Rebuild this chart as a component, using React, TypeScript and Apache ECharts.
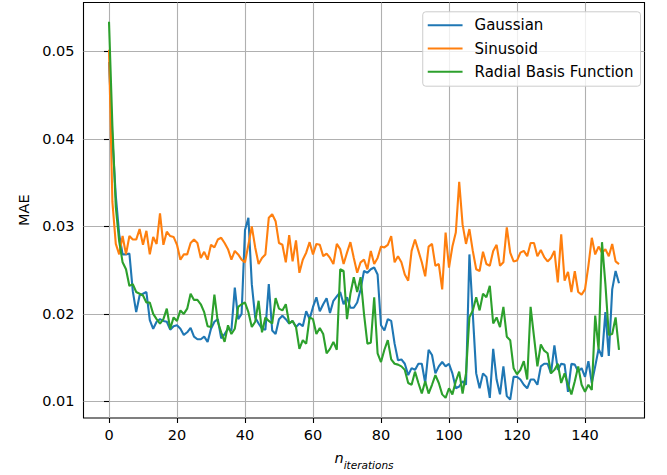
import React, { useEffect, useRef } from "react";
import * as echarts from "echarts";

const seriesNames = ["Gaussian", "Sinusoid", "Radial Basis Function"];
const seriesColors = ["#1f77b4", "#ff7f0e", "#2ca02c"];

const gaussian = [
  0.0488, 0.0400, 0.0335, 0.0291, 0.0268, 0.0268, 0.0269, 0.0226, 0.0202, 0.0221,
  0.0223, 0.0225, 0.0193, 0.0183, 0.0191, 0.0194, 0.0192, 0.0191, 0.0182, 0.0186,
  0.0187, 0.0183, 0.0176, 0.0179, 0.0184, 0.0174, 0.0171, 0.0171, 0.0174, 0.0168,
  0.0183, 0.0191, 0.0194, 0.0172, 0.0177, 0.0183, 0.0181, 0.0230, 0.0194, 0.0200,
  0.0296, 0.0310, 0.0234, 0.0196, 0.0189, 0.0183, 0.0182, 0.0234, 0.0181, 0.0177,
  0.0194, 0.0198, 0.0194, 0.0189, 0.0192, 0.0185, 0.0189, 0.0186, 0.0203, 0.0194,
  0.0208, 0.0219, 0.0203, 0.0211, 0.0218, 0.0201, 0.0215, 0.0220, 0.0225, 0.0211,
  0.0219, 0.0207, 0.0207, 0.0213, 0.0228, 0.0249, 0.0247, 0.0251, 0.0253, 0.0245,
  0.0187, 0.0181, 0.0194, 0.0192, 0.0166, 0.0147, 0.0148, 0.0143, 0.0130, 0.0138,
  0.0136, 0.0143, 0.0143, 0.0121, 0.0159, 0.0153, 0.0132, 0.0140, 0.0145, 0.0140,
  0.0143, 0.0132, 0.0115, 0.0117, 0.0123, 0.0119, 0.0268, 0.0200, 0.0132, 0.0115,
  0.0132, 0.0128, 0.0104, 0.0160, 0.0125, 0.0108, 0.0140, 0.0106, 0.0102, 0.0128,
  0.0128, 0.0125, 0.0119, 0.0115, 0.0125, 0.0125, 0.0119, 0.0140, 0.0143, 0.0143,
  0.0132, 0.0164, 0.0136, 0.0143, 0.0142, 0.0111, 0.0143, 0.0142, 0.0134, 0.0138,
  0.0128, 0.0146, 0.0121, 0.0140, 0.0160, 0.0151, 0.0202, 0.0152, 0.0228, 0.0249, 0.0235,
];

const sinusoid = [
  0.0502, 0.0328, 0.0280, 0.0268, 0.0289, 0.0268, 0.0289, 0.0285, 0.0285, 0.0297,
  0.0279, 0.0295, 0.0268, 0.0288, 0.0280, 0.0315, 0.0279, 0.0294, 0.0289, 0.0288,
  0.0279, 0.0262, 0.0268, 0.0268, 0.0281, 0.0285, 0.0281, 0.0264, 0.0271, 0.0262,
  0.0279, 0.0276, 0.0285, 0.0287, 0.0281, 0.0274, 0.0262, 0.0272, 0.0268, 0.0262,
  0.0259, 0.0279, 0.0300, 0.0276, 0.0257, 0.0264, 0.0268, 0.0310, 0.0314, 0.0306,
  0.0281, 0.0279, 0.0259, 0.0290, 0.0260, 0.0284, 0.0247, 0.0262, 0.0270, 0.0282,
  0.0268, 0.0280, 0.0279, 0.0266, 0.0269, 0.0264, 0.0257, 0.0280, 0.0274, 0.0257,
  0.0270, 0.0282, 0.0264, 0.0247, 0.0259, 0.0262, 0.0251, 0.0272, 0.0257, 0.0264,
  0.0277, 0.0276, 0.0279, 0.0289, 0.0259, 0.0266, 0.0259, 0.0245, 0.0238, 0.0272,
  0.0285, 0.0272, 0.0259, 0.0243, 0.0277, 0.0280, 0.0255, 0.0257, 0.0228, 0.0293,
  0.0253, 0.0277, 0.0293, 0.0351, 0.0302, 0.0280, 0.0297, 0.0272, 0.0251, 0.0249,
  0.0271, 0.0257, 0.0255, 0.0272, 0.0279, 0.0255, 0.0259, 0.0299, 0.0270, 0.0260,
  0.0261, 0.0270, 0.0272, 0.0266, 0.0281, 0.0281, 0.0266, 0.0273, 0.0265, 0.0260,
  0.0264, 0.0272, 0.0236, 0.0291, 0.0238, 0.0248, 0.0225, 0.0249, 0.0225, 0.0222,
  0.0228, 0.0255, 0.0287, 0.0268, 0.0277, 0.0270, 0.0274, 0.0266, 0.0280, 0.0260, 0.0257,
];

const rbf = [
  0.0534, 0.0415, 0.0322, 0.0283, 0.0259, 0.0251, 0.0232, 0.0234, 0.0225, 0.0223,
  0.0221, 0.0213, 0.0213, 0.0200, 0.0194, 0.0189, 0.0194, 0.0206, 0.0183, 0.0196,
  0.0192, 0.0204, 0.0200, 0.0206, 0.0223, 0.0216, 0.0216, 0.0211, 0.0202, 0.0186,
  0.0185, 0.0222, 0.0191, 0.0179, 0.0168, 0.0187, 0.0177, 0.0183, 0.0208, 0.0211,
  0.0213, 0.0202, 0.0185, 0.0191, 0.0215, 0.0179, 0.0196, 0.0192, 0.0189, 0.0218,
  0.0206, 0.0204, 0.0211, 0.0189, 0.0192, 0.0185, 0.0160, 0.0170, 0.0166, 0.0196,
  0.0194, 0.0177, 0.0184, 0.0177, 0.0155, 0.0160, 0.0168, 0.0159, 0.0251, 0.0249,
  0.0194, 0.0223, 0.0242, 0.0225, 0.0242, 0.0200, 0.0166, 0.0167, 0.0219, 0.0155,
  0.0145, 0.0159, 0.0170, 0.0148, 0.0143, 0.0142, 0.0140, 0.0136, 0.0121, 0.0119,
  0.0134, 0.0121, 0.0109, 0.0123, 0.0109, 0.0119, 0.0130, 0.0121, 0.0108, 0.0104,
  0.0115, 0.0108, 0.0123, 0.0134, 0.0109, 0.0132, 0.0196, 0.0204, 0.0219, 0.0204,
  0.0223, 0.0219, 0.0232, 0.0189, 0.0196, 0.0185, 0.0208, 0.0174, 0.0170, 0.0138,
  0.0131, 0.0136, 0.0146, 0.0125, 0.0208, 0.0174, 0.0140, 0.0165, 0.0158, 0.0155,
  0.0132, 0.0136, 0.0143, 0.0121, 0.0132, 0.0119, 0.0108, 0.0123, 0.0140, 0.0119,
  0.0111, 0.0119, 0.0113, 0.0198, 0.0159, 0.0282, 0.0234, 0.0176, 0.0177, 0.0196, 0.0159,
];

const xTicks = [0, 20, 40, 60, 80, 100, 120, 140];
const yTicks = [0.01, 0.02, 0.03, 0.04, 0.05];

const FONT = "DejaVu Sans";

export default function App() {
  const ref = useRef<HTMLDivElement>(null);

  useEffect(() => {
    document.body.style.margin = "0";
    const chart = echarts.init(ref.current!, null, { renderer: "svg" });
    const allSeries = [gaussian, sinusoid, rbf];
    chart.setOption({
      animation: false,
      backgroundColor: "#ffffff",
      grid: {
        left: 83.5,
        right: 22.5,
        top: 2.5,
        bottom: 53.3,
        show: true,
        borderColor: "#000000",
        borderWidth: 1.1,
        backgroundColor: "transparent",
      },
      legend: {
        data: seriesNames,
        orient: "vertical",
        right: 26.5,
        top: 11.8,
        icon: "rect",
        backgroundColor: "rgba(255,255,255,0.8)",
        borderColor: "#cccccc",
        borderWidth: 1,
        borderRadius: 3,
        padding: [6, 7, 7, 5],
        itemGap: 8.2,
        itemWidth: 34.8,
        itemHeight: 2.1,
        formatter: (name: string) => `{t|${name}}`,
        textStyle: {
          fontFamily: FONT,
          fontSize: 15,
          color: "#000000",
          rich: {
            t: { fontFamily: FONT, fontSize: 15, color: "#000000", lineHeight: 15, padding: [0, 0, 0, 7] },
          },
        },
      },
      xAxis: {
        type: "value",
        min: -7.5,
        max: 157.5,
        name: "{n|n}{s|iterations}",
        nameLocation: "middle",
        nameGap: 32,
        nameTextStyle: {
          rich: {
            n: { fontFamily: FONT, fontSize: 14.5, fontStyle: "italic", color: "#000", lineHeight: 20, verticalAlign: "top" },
            s: { fontFamily: FONT, fontSize: 10.5, fontStyle: "italic", color: "#000", lineHeight: 20, verticalAlign: "bottom", padding: [5, 0, 0, 0] },
          },
        },
        axisLine: { show: false },
        axisTick: {
          show: true,
          inside: false,
          length: 5,
          lineStyle: { color: "#000", width: 1.1 },
          customValues: xTicks,
        },
        axisLabel: {
          customValues: xTicks,
          margin: 9,
          fontFamily: FONT,
          fontSize: 14.5,
          color: "#000",
        },
        splitLine: { show: true, lineStyle: { color: "#b0b0b0", width: 1.1 } },
      },
      yAxis: {
        type: "value",
        min: 0.0081,
        max: 0.0556,
        name: "MAE",
        nameLocation: "middle",
        nameRotate: 90,
        nameGap: 50,
        nameTextStyle: { fontFamily: FONT, fontSize: 14.5, color: "#000" },
        axisLine: { show: false },
        axisTick: {
          show: true,
          inside: false,
          length: 5,
          lineStyle: { color: "#000", width: 1.1 },
          customValues: yTicks,
        },
        axisLabel: {
          customValues: yTicks,
          margin: 9,
          fontFamily: FONT,
          fontSize: 14.5,
          color: "#000",
          formatter: (v: number) => v.toFixed(2),
        },
        splitLine: { show: true, lineStyle: { color: "#b0b0b0", width: 1.1 } },
      },
      series: allSeries.map((arr, i) => ({
        name: seriesNames[i],
        type: "line",
        data: arr.map((v, x) => [x, v]),
        symbol: "none",
        showSymbol: false,
        color: seriesColors[i],
        itemStyle: { color: seriesColors[i] },
        lineStyle: { color: seriesColors[i], width: 2.1 },
        clip: true,
      })),
    });
    return () => chart.dispose();
  }, []);

  return (
    <div
      ref={ref}
      style={{ width: 667, height: 475, position: "absolute", left: 0, top: 0 }}
    />
  );
}
